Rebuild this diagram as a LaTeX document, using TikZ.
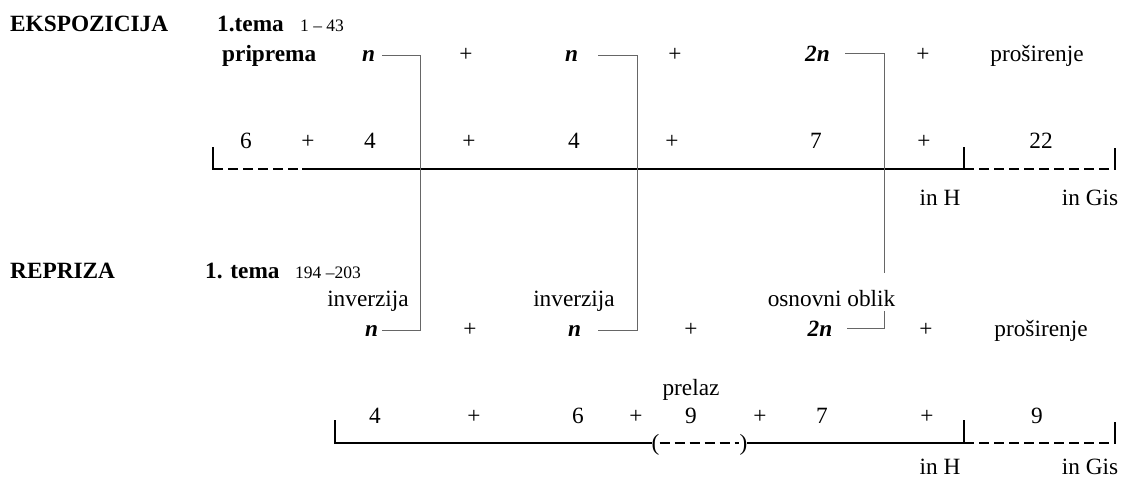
\documentclass[tikz,border=0pt]{standalone}
\usepackage{fontspec}
\setmainfont{Liberation Serif}
\begin{document}
\begin{tikzpicture}[x=1pt,y=-1pt,
  txt/.style={anchor=base, inner sep=0pt, font=\fontsize{23.3}{28}\selectfont},
  lbl/.style={anchor=base west, inner sep=0pt, font=\fontsize{23.3}{28}\selectfont\bfseries},
  sm/.style={anchor=base west, inner sep=0pt, font=\fontsize{17.5}{21}\selectfont},
  var/.style={anchor=base, inner sep=0pt, font=\fontsize{23.3}{28}\selectfont\bfseries\itshape},
  conn/.style={draw=black!60, line width=1pt},
  bar/.style={line width=2pt, line cap=rect},
  dbar/.style={line width=2pt, dash pattern=on 10pt off 5pt},
]
\useasboundingbox (0,0) rectangle (1122,483);

% ---------- EKSPOZICIJA ----------
\node[lbl] (ekspo) at (10,31.5) {EKSPOZICIJA};
\node[lbl] (tema1) at (217,31.5) {1.tema};
\node[sm] (r1) at (300,31.5) {1 – 43};
\node[lbl] (prip) at (222,61) {priprema};
\node[var] (nA1) at (368.5,61) {n};
\node[txt] (pA1) at (466,61) {+};
\node[var] (nA2) at (571.5,61) {n};
\node[txt] (pA2) at (675,61) {+};
\node[var] (nA3) at (817.5,61) {2n};
\node[txt] (pA3) at (923,61) {+};
\node[txt] (prosA) at (1037,61) {proširenje};

\node[txt] (a6) at (246,148) {6};
\node[txt] (ap1) at (308,148) {+};
\node[txt] (a4a) at (370,148) {4};
\node[txt] (ap2) at (469,148) {+};
\node[txt] (a4b) at (574,148) {4};
\node[txt] (ap3) at (672,148) {+};
\node[txt] (a7) at (816,148) {7};
\node[txt] (ap4) at (924,148) {+};
\node[txt] (a22) at (1041,148) {22};

\coordinate (A0) at (213,148);
\coordinate (A1) at (213,169);
\coordinate (A2) at (303,169);
\coordinate (A3) at (964,169);
\coordinate (A3t) at (964,148);
\coordinate (A4) at (1115,169);
\coordinate (A4t) at (1115,149);
\draw[bar] (A0) -- (A1);
\draw[dbar] (A1) -- (A2);
\draw[bar] (A2) -- (A3);
\draw[bar] (A3t) -- (A3);
\draw[dbar] (A3) -- (A4);
\draw[bar] (A4) -- (A4t);

\node[txt] (hA) at (940,205) {in H};
\node[txt] (gA) at (1090,205) {in Gis};

% ---------- REPRIZA ----------
\node[lbl] (repr) at (10,278) {REPRIZA};
\node[lbl] (tema2) at (205,278) {1. tema};
\node[sm] (r2) at (295,278) {194 –203};

\node[txt] (inv1) at (368,306) {inverzija};
\node[txt] (inv2) at (574,306) {inverzija};

\node[var] (nB1) at (371.5,336) {n};
\node[txt] (pB1) at (470,336) {+};
\node[var] (nB2) at (574.5,336) {n};
\node[txt] (pB2) at (691,336) {+};
\node[var] (nB3) at (820,336) {2n};
\node[txt] (pB3) at (926,336) {+};
\node[txt] (prosB) at (1041,336) {proširenje};

% connectors
\coordinate (k1) at (420,0);
\coordinate (k2) at (637,0);
\coordinate (k3) at (884,0);
\draw[conn] ([xshift=7pt]nA1.east) -| (k1 |- nB1.east) -- ([xshift=4pt]nB1.east);
\draw[conn] ([xshift=20pt]nA2.east) -| (k2 |- nB2.east) -- ([xshift=17pt]nB2.east);
\draw[conn] ([xshift=15pt]nA3.east) -| (k3 |- nB3.east) -- ([xshift=14pt]nB3.east);

\node[txt, fill=white, text height=33pt, text depth=5pt] (osn) at (831.5,306) {osnovni oblik};

\node[txt] (prel) at (691,395) {prelaz};

\node[txt] (b4) at (375,423) {4};
\node[txt] (bp1) at (474,423) {+};
\node[txt] (b6) at (578,423) {6};
\node[txt] (bp2) at (636,423) {+};
\node[txt] (b9) at (691,423) {9};
\node[txt] (bp3) at (760,423) {+};
\node[txt] (b7) at (822,423) {7};
\node[txt] (bp4) at (927,423) {+};
\node[txt] (b9b) at (1037,423) {9};

\node[txt] (lp) at (655.5,450) {(};
\node[txt] (rp) at (743.5,450) {)};

\coordinate (B0) at (335,421);
\coordinate (B1) at (335,443);
\coordinate (B3) at (964,443);
\coordinate (B3t) at (964,421);
\coordinate (B4) at (1115,443);
\coordinate (B4t) at (1115,423);
\draw[bar] (B0) -- (B1) -- (lp.west |- B1);
\draw[dbar] (lp.east |- B1) -- (rp.west |- B1);
\draw[bar] (rp.east |- B1) -- (B3);
\draw[bar] (B3t) -- (B3);
\draw[dbar] (B3) -- (B4);
\draw[bar] (B4) -- (B4t);

\node[txt] (hB) at (940,474) {in H};
\node[txt] (gB) at (1090,474) {in Gis};
\end{tikzpicture}
\end{document}
